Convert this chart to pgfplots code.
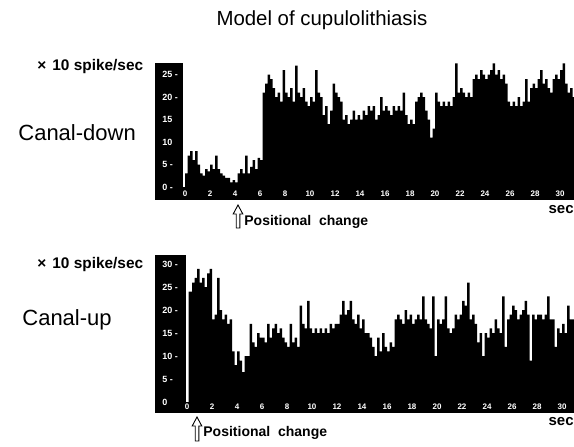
\documentclass[border=0pt]{standalone}
\usepackage{pgfplots}
\pgfplotsset{compat=1.18}
\usepackage{fontspec}
\setmainfont{Liberation Sans}

\pgfplotsset{
  panel/.style={
    scale only axis, anchor=south west,
    axis line style={draw=none}, tick style={draw=none}, major tick length=0pt,
    axis on top,
    xtick={0,2,...,30},
    /pgf/number format/assume math mode=true,
    xticklabel style={text=white, font=\fontsize{4}{4}\selectfont\bfseries, anchor=south, inner sep=0.5pt, yshift=1pt},
    yticklabel style={text=white, font=\fontsize{4.5}{4.5}\selectfont\bfseries, anchor=west, inner sep=0.5pt, xshift=3pt},
  }
}

\begin{document}
\begin{tikzpicture}
\useasboundingbox (0,0) rectangle (287pt,223pt);

% ---------------- Canal-down ----------------
\begin{axis}[panel, at={(77.5pt,123pt)}, width=209.5pt, height=68.5pt,
  xmin=-2.4, xmax=31.12, ymin=-2.9, ymax=27.6,
  ytick={0,5,10,15,20,25}, yticklabels={0 -,5 -,10,15,20 -,25 -}]
\addplot[fill=black, draw=none] coordinates {(-2.4,-2.9) (-0.15,-2.9) (-0.15,27.6) (-2.4,27.6)} -- cycle;
\addplot[fill=black, draw=none] coordinates {(-2.4,-2.9) (31.12,-2.9) (31.12,0) (-2.4,0)} -- cycle;
\addplot[fill=black, draw=none, const plot mark left] coordinates {
(0,0) (0,3) (0.2,7) (0.4,8) (0.6,6) (0.8,8) (1.0,5) (1.2,3) (1.4,2.5) (1.6,4) (1.8,3.5)
(2.0,5) (2.2,4) (2.4,7) (2.6,4) (2.8,3) (3.0,2.5) (3.2,2) (3.4,2) (3.6,1) (3.8,1.5)
(4.0,1) (4.2,3) (4.4,4) (4.6,3) (4.8,7) (5.0,3) (5.2,4.5) (5.4,6) (5.6,4) (5.8,6.5)
(6.0,6) (6.2,21) (6.4,23) (6.6,25) (6.8,24) (7.0,22) (7.2,20) (7.4,21) (7.6,19) (7.8,26)
(8.0,21) (8.2,20) (8.4,22) (8.6,19) (8.8,27) (9.0,21) (9.2,20) (9.4,22) (9.6,19) (9.8,18)
(10.0,20) (10.2,19) (10.4,26) (10.6,21) (10.8,20) (11.0,16) (11.2,18) (11.4,14) (11.6,17) (11.8,23)
(12.0,21) (12.2,20) (12.4,19) (12.6,15) (12.8,16) (13.0,14) (13.2,15) (13.4,17) (13.6,15) (13.8,16)
(14.0,15) (14.2,17) (14.4,16) (14.6,18) (14.8,17) (15.0,18) (15.2,15) (15.4,16) (15.6,20) (15.8,17)
(16.0,18) (16.2,17) (16.4,16) (16.6,18) (16.8,17) (17.0,18) (17.2,17) (17.4,21) (17.6,16) (17.8,14)
(18.0,15) (18.2,14) (18.4,19) (18.6,20) (18.8,21) (19.0,20) (19.2,17) (19.4,15) (19.6,11) (19.8,13)
(20.0,21) (20.2,19) (20.4,18) (20.6,19) (20.8,18) (21.0,19) (21.2,18) (21.4,20) (21.6,27.5) (21.8,21)
(22.0,22) (22.2,21) (22.4,20) (22.6,21) (22.8,20) (23.0,24) (23.2,25) (23.4,24) (23.6,26) (23.8,25)
(24.0,24) (24.2,25) (24.4,26) (24.6,27.5) (24.8,25) (25.0,26) (25.2,24) (25.4,25) (25.6,23) (25.8,19)
(26.0,18) (26.2,19) (26.4,18) (26.6,20) (26.8,18) (27.0,19) (27.2,24) (27.4,19) (27.6,22) (27.8,23)
(28.0,22) (28.2,24) (28.4,26) (28.6,23) (28.8,24) (29.0,22) (29.2,21) (29.4,24) (29.6,25) (29.8,24)
(30.0,26) (30.2,27.5) (30.4,23) (30.6,21) (30.8,22) (31.0,20) (31.2,0)
} -- cycle;
\end{axis}

% ---------------- Canal-up ----------------
\begin{axis}[panel, at={(77.5pt,16.5pt)}, width=209.5pt, height=79pt,
  xmin=-2.56, xmax=30.96, ymin=-2.4, ymax=32,
  ytick={0,5,10,15,20,25,30}, yticklabels={0,5 -,10 -,15 -,20 -,25 -,30 -}]
\addplot[fill=black, draw=none] coordinates {(-2.56,-2.4) (-0.05,-2.4) (-0.05,32) (-2.56,32)} -- cycle;
\addplot[fill=black, draw=none] coordinates {(-2.56,-2.4) (30.96,-2.4) (30.96,0) (-2.56,0)} -- cycle;
\addplot[fill=black, draw=none, const plot mark left] coordinates {
(0.12,0) (0.12,24) (0.4,26) (0.6,27) (0.8,29) (1.0,26) (1.2,27) (1.4,25) (1.6,28) (1.8,29)
(2.0,18) (2.2,19) (2.4,27) (2.6,20) (2.8,18) (3.0,19) (3.2,17) (3.4,18) (3.6,11) (3.8,8)
(4.0,11) (4.2,9) (4.4,6.5) (4.6,10) (4.8,10) (5.0,17) (5.2,13) (5.4,12) (5.6,15) (5.8,14)
(6.0,14) (6.2,13) (6.4,17) (6.6,14) (6.8,16) (7.0,17) (7.2,15) (7.4,16) (7.6,14) (7.8,13)
(8.0,12) (8.2,17) (8.4,13) (8.6,14) (8.8,12) (9.0,21) (9.2,17) (9.4,16) (9.6,22) (9.8,16)
(10.0,15) (10.2,16) (10.4,15) (10.6,16) (10.8,15) (11.0,16) (11.2,15) (11.4,17) (11.6,16) (11.8,17)
(12.0,17) (12.2,19) (12.4,22) (12.6,19) (12.8,20)
(13.0,22) (13.2,18) (13.4,17) (13.6,19) (13.8,16) (14.0,18) (14.2,15) (14.4,15) (14.6,14) (14.8,12)
(15.0,10) (15.2,14) (15.4,11) (15.6,15) (15.8,12) (16.0,11) (16.2,13) (16.4,12) (16.6,18) (16.8,19)
(17.0,18) (17.2,17) (17.4,20) (17.6,18) (17.8,19) (18.0,17) (18.2,18) (18.4,19) (18.6,18) (18.8,23)
(19.0,18) (19.2,17) (19.4,16) (19.6,23) (19.8,10) (20.0,18) (20.2,17) (20.4,18) (20.6,23) (20.8,16)
(21.0,15) (21.2,16) (21.4,19) (21.6,18) (21.8,19) (22.0,22) (22.2,21) (22.4,26) (22.6,18) (22.8,19)
(23.0,17) (23.2,13) (23.4,15) (23.6,10) (23.8,15) (24.0,14) (24.2,16) (24.4,15) (24.6,18) (24.8,16)
(25.0,15) (25.2,23) (25.4,12) (25.6,18) (25.8,19) (26.0,21) (26.2,20) (26.4,18) (26.6,19) (26.8,20)
(27.0,22) (27.2,19) (27.4,9) (27.6,19) (27.8,18) (28.0,19) (28.2,19) (28.4,18) (28.6,19) (28.8,23)
(29.0,18) (29.2,18) (29.4,12) (29.6,16) (29.8,15) (30.0,17) (30.2,15) (30.4,21) (30.6,18) (30.8,18)
(31.0,18) (31.2,0)
} -- cycle;
\end{axis}

% ---------------- texts and arrows ----------------
\node[font=\fontsize{10.2}{12}\selectfont] at (161pt,213pt) {Model of cupulolithiasis};
\node[anchor=west, inner sep=0pt, font=\fontsize{7.7}{9}\selectfont\bfseries] at (18.5pt,189.5pt) {×\hspace{3pt}10 spike/sec};
\node[anchor=west, inner sep=0pt, font=\fontsize{7.7}{9}\selectfont\bfseries] at (18.5pt,90.5pt) {×\hspace{3pt}10 spike/sec};
\node[anchor=west, inner sep=0pt, font=\fontsize{11}{13}\selectfont] at (9pt,156.5pt) {Canal-down};
\node[anchor=west, inner sep=0pt, font=\fontsize{11}{13}\selectfont] at (11pt,63pt) {Canal-up};
\node[anchor=east, inner sep=0pt, font=\fontsize{7.5}{9}\selectfont\bfseries] at (287pt,118pt) {sec};
\node[anchor=east, inner sep=0pt, font=\fontsize{7.5}{9}\selectfont\bfseries] at (287pt,12pt) {sec};
\node[anchor=west, inner sep=0pt, font=\fontsize{7}{9}\selectfont\bfseries] at (122pt,112pt) {Positional\ \ change};
\node[anchor=west, inner sep=0pt, font=\fontsize{7}{9}\selectfont\bfseries] at (101.5pt,6.5pt) {Positional\ \ change};
\draw[line width=0.45pt, shift={(119pt,109pt)}] (-0.9pt,0) -- (-0.9pt,7pt) -- (-2.4pt,7pt) -- (0,11.5pt) -- (2.4pt,7pt) -- (0.9pt,7pt) -- (0.9pt,0) -- cycle;
\draw[line width=0.45pt, shift={(98.5pt,2.5pt)}] (-0.9pt,0) -- (-0.9pt,7.5pt) -- (-2.4pt,7.5pt) -- (0,12pt) -- (2.4pt,7.5pt) -- (0.9pt,7.5pt) -- (0.9pt,0) -- cycle;
\end{tikzpicture}
\end{document}
